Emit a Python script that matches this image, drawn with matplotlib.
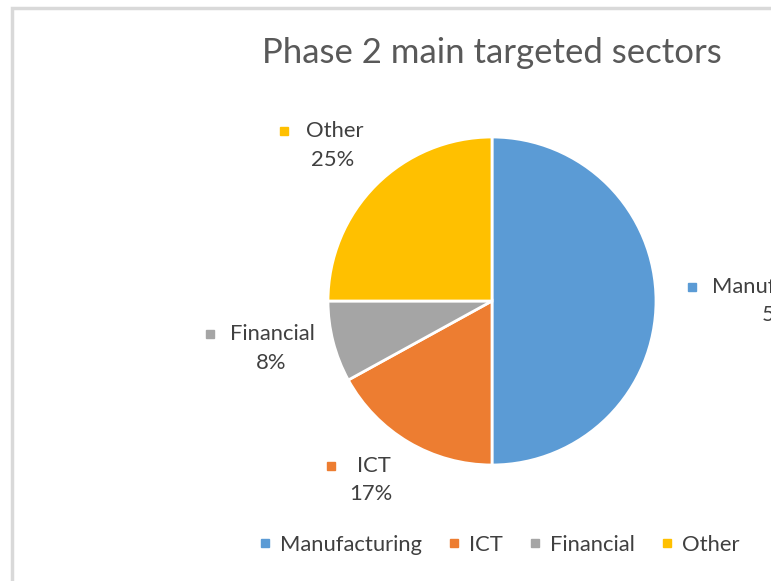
import matplotlib
matplotlib.use('Agg')
import matplotlib.pyplot as plt
from matplotlib.lines import Line2D

## data
sectors = ['Manufacturing', 'ICT', 'Financial', 'Other']
shares = [50, 17, 8, 25]
colors = ['#5B9BD5', '#ED7D31', '#A5A5A5', '#FFC000']
title = 'Phase 2 main targeted sectors'

W, H = 771, 581
FONT = 'Lato'
TXT = '#404040'
FS = 15.8

def Y(y):
	# pixel row (from top) -> axes y (from bottom)
	return H - y

fig = plt.figure(figsize=(W / 100.0, H / 100.0), dpi=100)
ax = fig.add_axes([0, 0, 1, 1])

# chart area border (left and top edge only, rest is cropped)
ax.plot([12, 12, W + 5], [-5, Y(8), Y(8)], color='#D9D9D9', lw=2.5, solid_joinstyle='miter')

## pie
ax.pie(shares, colors=colors, startangle=90, counterclock=False,
	   center=(492, Y(301)), radius=164, frame=True,
	   wedgeprops=dict(edgecolor='white', linewidth=2))
ax.set_xlim(0, W)
ax.set_ylim(0, H)
ax.set_aspect('equal')
ax.axis('off')

## data labels: (marker x, name x, row y, pct x, pct y)
label_pos = [(692, 712, 287, 783, 315),
			 (331, 357, 466, 371, 494),
			 (210, 230, 334, 271, 363),
			 (284, 306, 131, 333, 160)]
for name, val, col, pos in zip(sectors, shares, colors, label_pos):
	mx, nx, ny, px, py = pos
	ax.plot(mx, Y(ny), 's', color=col, markersize=6, clip_on=False)
	ax.text(nx, Y(ny), name, fontsize=FS, color=TXT, family=FONT, ha='left', va='center')
	ax.text(px, Y(py), '%d%%' % val, fontsize=FS, color=TXT, family=FONT, ha='center', va='center')

## title
ax.text(492, Y(53), title, fontsize=25, color='#595959', family=FONT, ha='center', va='center')

## legend
handles = [Line2D([], [], marker='s', ls='', color=c, markersize=6) for c in colors]
leg = ax.legend(handles, sectors, loc='center left', bbox_to_anchor=(258.0 / W, 1 - 545.0 / H),
				ncol=4, frameon=False, handlelength=0.6, handletextpad=0.4, columnspacing=1.15,
				borderpad=0, borderaxespad=0, prop={'family': FONT, 'size': FS})
for t in leg.get_texts():
	t.set_color(TXT)

fig.savefig('out.png', dpi=100)
